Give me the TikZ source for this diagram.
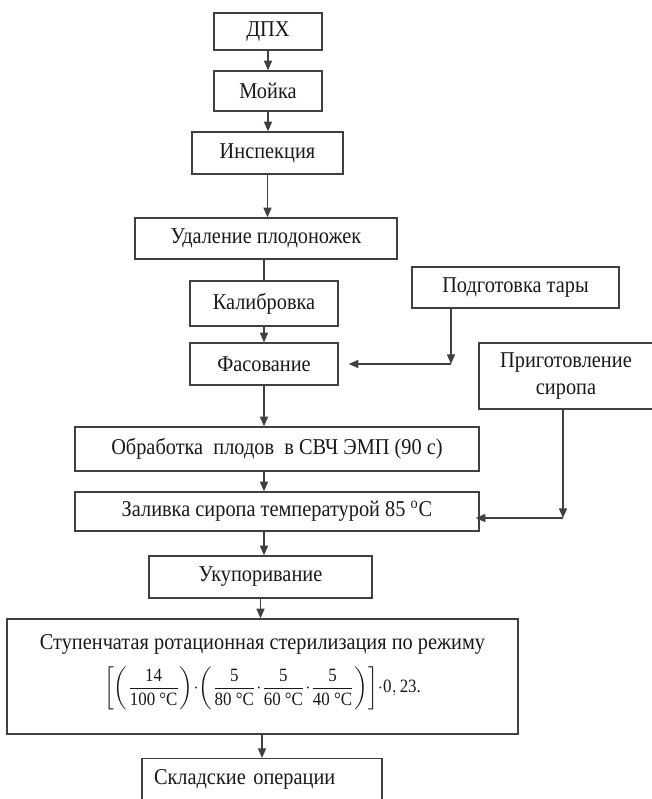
\documentclass[tikz,border=0pt]{standalone}
\usepackage{fontspec}
\setmainfont[FakeStretch=0.9]{Liberation Serif}
\usepackage{amsmath}
\usetikzlibrary{arrows.meta}

\begin{document}
\begin{tikzpicture}[x=0.5pt, y=-0.5pt, font=\fontsize{11.3}{13.5}\selectfont,
		blok/.style={draw=black!75, line width=0.7pt, text=black!90, inner sep=0pt, align=center},
		liniya/.style={draw=black!75, line width=0.7pt},
		strelka/.style={liniya, -{Triangle[length=4.8pt, width=4pt]}}]
		\useasboundingbox (0,0) rectangle (652,799);
		\clip (0,0) rectangle (652,799);
		\node[blok, minimum width=54pt, minimum height=18.5pt] (dpx) at (268,31.5) {ДПХ};
		\node[blok, minimum width=54pt, minimum height=20pt] (moyka) at (268,91) {Мойка};
		\node[blok, minimum width=75.5pt, minimum height=21pt] (insp) at (267.5,153) {Инспекция};
		\node[blok, minimum width=131pt, minimum height=20.5pt] (udal) at (266,238.5) {Удаление плодоножек};
		\node[blok, minimum width=74pt, minimum height=22.5pt] (kalib) at (264,303.5) {Калибровка};
		\node[blok, minimum width=74pt, minimum height=21pt] (fas) at (264,364) {Фасование};
		\node[blok, minimum width=103.5pt, minimum height=20.5pt] (tara) at (515.5,287.5) {Подготовка тары};
		\node[blok, minimum width=87pt, minimum height=33pt] (sirop) at (566,376) {Приготовление\\сиропа};
		\node[blok, minimum width=202pt, minimum height=22pt] (obr) at (277,449) {Обработка\ \ плодов\ \ в СВЧ ЭМП (90 с)};
		\node[blok, minimum width=202pt, minimum height=19.5pt] (zal) at (277,511.5) {Заливка сиропа температурой 85 \textsuperscript{o}C};
		\node[blok, minimum width=111.5pt, minimum height=21pt] (ukup) at (260.5,577) {Укупоривание};
		\node[blok, minimum width=255.5pt, minimum height=57.5pt] (ster) at (262.5,676.5) {Ступенчатая ротационная стерилизация по режиму\\[5pt]
			\raisebox{0pt}[\height][\dimexpr\depth+4pt\relax]{\fontsize{9.4}{11}\selectfont$\displaystyle\left[\left(\frac{\text{14}}{\text{100 °C}}\right)\!{\cdot}\!\left(\frac{\text{5}}{\text{80 °C}}{\cdot}\frac{\text{5}}{\text{60 °C}}{\cdot}\frac{\text{5}}{\text{40 °C}}\right)\right]\!{\cdot}\text{0},\text{23.}$}};
		\node[blok, anchor=north, align=left, text width=108pt, inner xsep=6pt, inner ysep=5.5pt, text height=7.5pt, text depth=30pt] (sklad) at (262,758) {Складские операции};
		\draw[strelka] (dpx) -- (moyka);
		\draw[strelka] (moyka.south) -- (moyka.south |- insp.north);
		\draw[strelka] (insp.south) -- (insp.south |- udal.north);
		\draw[liniya] (kalib.north |- udal.south) -- (kalib.north);
		\draw[strelka] (kalib) -- (fas);
		\draw[strelka] (fas.south) -- (fas.south |- obr.north);
		\draw[strelka] (obr.south -| fas.south) -- (fas.south |- zal.north);
		\draw[strelka] (zal.south -| fas.south) -- (fas.south |- ukup.north);
		\draw[strelka] (ukup.south) -- (ukup.south |- ster.north);
		\draw[strelka] (sklad.north |- ster.south) -- (sklad.north);
		\coordinate (ugol1) at (451,364);
		\draw[strelka] (tara.south -| ugol1) -- (ugol1);
		\draw[strelka, shorten >=5pt] (ugol1) -- (fas.east);
		\coordinate (ugol2) at (563,518);
		\draw[strelka] (sirop.south -| ugol2) -- (ugol2);
		\draw[strelka, shorten >=-2pt] (ugol2) -- (zal.east |- ugol2);
\end{tikzpicture}
\end{document}
